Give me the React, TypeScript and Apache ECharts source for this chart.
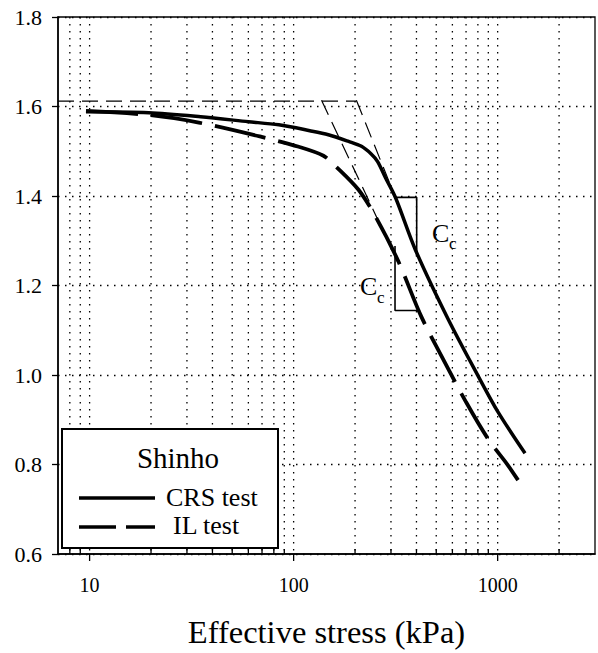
import React, { useEffect, useRef } from 'react';
import * as echarts from 'echarts';

// CRS test (solid)
const crsStress = [9.6, 19.5, 35, 60, 84.6, 120, 148, 186, 215, 240, 258, 282, 316, 395, 573, 804, 1005, 1362];
const crsVoid = [1.588, 1.586, 1.577, 1.566, 1.559, 1.546, 1.537, 1.522, 1.511, 1.494, 1.477, 1.441, 1.396, 1.28, 1.124, 0.997, 0.917, 0.825];

// IL test (dashed)
const ilStress = [9.6, 19.5, 34.3, 69.7, 106, 140, 162, 208, 252, 326, 422, 541, 701, 898, 1112, 1259];
const ilVoid = [1.59, 1.581, 1.564, 1.532, 1.51, 1.49, 1.465, 1.414, 1.354, 1.254, 1.131, 1.035, 0.939, 0.857, 0.801, 0.765];

// construction lines (preconsolidation)
const pcHorizStress = [7, 203];
const pcHorizVoid = [1.612, 1.612];
const pcIlStress = [137, 261];
const pcIlVoid = [1.614, 1.343];
const pcCrsStress = [203, 316];
const pcCrsVoid = [1.614, 1.396];

// Cc brackets
const ccCrsStress = [314, 401, 401];
const ccCrsVoid = [1.397, 1.397, 1.265];
const ccIlStress = [314, 314, 417];
const ccIlVoid = [1.288, 1.144, 1.144];

// axes
const xMin = 7;
const xMax = 3000;
const yMin = 0.6;
const yMax = 1.8;
const yStep = 0.2;
const xMajor = [10, 100, 1000];
const xMinor = [8, 9, 20, 30, 40, 50, 60, 70, 80, 90, 200, 300, 400, 500, 600, 700, 800, 900, 2000];

const zip = (a: number[], b: number[]) => a.map((v, i) => [v, b[i]]);
const FONT = 'Liberation Serif, serif';
const DOT = [1.5, 5.5];

export default function App() {
  const ref = useRef<HTMLDivElement>(null);
  useEffect(() => {
    if (!ref.current) return;
    const chart = echarts.init(ref.current, undefined, { renderer: 'svg' });
    const gridData = [
      ...xMajor.map((v) => [v, yMin, 1]),
      ...xMinor.map((v) => [v, yMin, 0]),
    ];
    const thinDash = { color: '#000', width: 1.2, type: [16, 8] as any };
    const txt = (text: string, x: number, y: number, size: number, align: string) => ({
      type: 'text',
      x,
      y,
      z: 100,
      style: { text, fontFamily: FONT, fontSize: size, fill: '#000', align, verticalAlign: 'middle' },
    });
    const option: any = {
      animation: false,
      backgroundColor: '#fff',
      textStyle: { fontFamily: FONT, color: '#000' },
      grid: { left: 58, right: 3, top: 17, bottom: 98, show: true, borderColor: '#000', borderWidth: 1.3, backgroundColor: 'transparent' },
      xAxis: {
        type: 'log',
        min: xMin,
        max: xMax,
        logBase: 10,
        name: 'Effective stress (kPa)',
        nameLocation: 'middle',
        nameGap: 61,
        nameTextStyle: { fontFamily: FONT, fontSize: 32.5, color: '#000' },
        axisLine: { onZero: false, lineStyle: { color: '#000', width: 1.5 } },
        axisTick: { show: false },
        splitLine: { show: false },
        axisLabel: {
          fontFamily: FONT,
          fontSize: 20,
          color: '#000',
          margin: 21,
          formatter: (v: number) => {
            const r = Math.round(v);
            return xMajor.includes(r) ? String(r) : '';
          },
        },
      },
      yAxis: {
        type: 'value',
        min: yMin,
        max: yMax,
        interval: yStep,
        axisLine: { show: true, lineStyle: { color: '#000', width: 1.5 } },
        axisTick: { show: true, length: 6, lineStyle: { color: '#000', width: 1.3 } },
        splitLine: { show: true, lineStyle: { color: '#000', width: 1.3, type: DOT } },
        axisLabel: {
          fontFamily: FONT,
          fontSize: 22,
          color: '#000',
          margin: 16,
          formatter: (v: number) => v.toFixed(1),
        },
      },
      series: [
        {
          type: 'custom',
          silent: true,
          z: 1,
          data: gridData,
          encode: { x: 0, y: 1 },
          renderItem: (params: any, api: any) => {
            const x = api.value(0);
            const major = api.value(2) === 1;
            const top = api.coord([x, yMax]);
            const bot = api.coord([x, yMin]);
            return {
              type: 'group',
              children: [
                {
                  type: 'line',
                  shape: { x1: top[0], y1: top[1], x2: bot[0], y2: bot[1] },
                  style: { stroke: '#000', lineWidth: 1.3, lineDash: DOT },
                },
                {
                  type: 'line',
                  shape: major
                    ? { x1: bot[0], y1: bot[1], x2: bot[0], y2: bot[1] + 7 }
                    : { x1: bot[0], y1: bot[1], x2: bot[0], y2: bot[1] - 5 },
                  style: { stroke: '#000', lineWidth: 1.3 },
                },
              ],
            };
          },
        },
        { name: 'pc-h', type: 'line', data: zip(pcHorizStress, pcHorizVoid), showSymbol: false, silent: true, z: 3, lineStyle: thinDash },
        { name: 'pc-il', type: 'line', data: zip(pcIlStress, pcIlVoid), showSymbol: false, silent: true, z: 3, lineStyle: thinDash },
        { name: 'pc-crs', type: 'line', data: zip(pcCrsStress, pcCrsVoid), showSymbol: false, silent: true, z: 3, lineStyle: thinDash },
        { name: 'cc-crs', type: 'line', data: zip(ccCrsStress, ccCrsVoid), showSymbol: false, silent: true, z: 3, lineStyle: { color: '#000', width: 1.6 } },
        { name: 'cc-il', type: 'line', data: zip(ccIlStress, ccIlVoid), showSymbol: false, silent: true, z: 3, lineStyle: { color: '#000', width: 1.6 } },
        {
          name: 'CRS test', type: 'line', data: zip(crsStress, crsVoid), showSymbol: false, smooth: 0.3, z: 5,
          lineStyle: { color: '#000', width: 3.5 },
        },
        {
          name: 'IL test', type: 'line', data: zip(ilStress, ilVoid), showSymbol: false, smooth: 0.3, z: 5,
          lineStyle: { color: '#000', width: 3.8, type: [52, 13] },
        },
      ],
      graphic: [
        { type: 'rect', z: 99, shape: { x: 62, y: 429, width: 216, height: 119 }, style: { fill: '#fff', stroke: '#000', lineWidth: 2 } },
        txt('Shinho', 178, 458, 29, 'center'),
        { type: 'line', z: 100, shape: { x1: 79, y1: 498, x2: 155, y2: 498 }, style: { stroke: '#000', lineWidth: 3.5 } },
        txt('CRS test', 166, 497, 26, 'left'),
        { type: 'line', z: 100, shape: { x1: 79, y1: 527, x2: 116, y2: 527 }, style: { stroke: '#000', lineWidth: 3.5 } },
        { type: 'line', z: 100, shape: { x1: 126, y1: 527, x2: 155, y2: 527 }, style: { stroke: '#000', lineWidth: 3.5 } },
        txt('IL test', 173, 525, 26, 'left'),
        txt('C', 432, 233, 26, 'left'),
        txt('c', 449, 243, 17, 'left'),
        txt('C', 360, 286, 26, 'left'),
        txt('c', 377, 297, 17, 'left'),
      ],
    };
    chart.setOption(option);
    return () => chart.dispose();
  }, []);
  return <div ref={ref} style={{ width: 598, height: 653, position: 'absolute', left: 0, top: 0 }} />;
}
